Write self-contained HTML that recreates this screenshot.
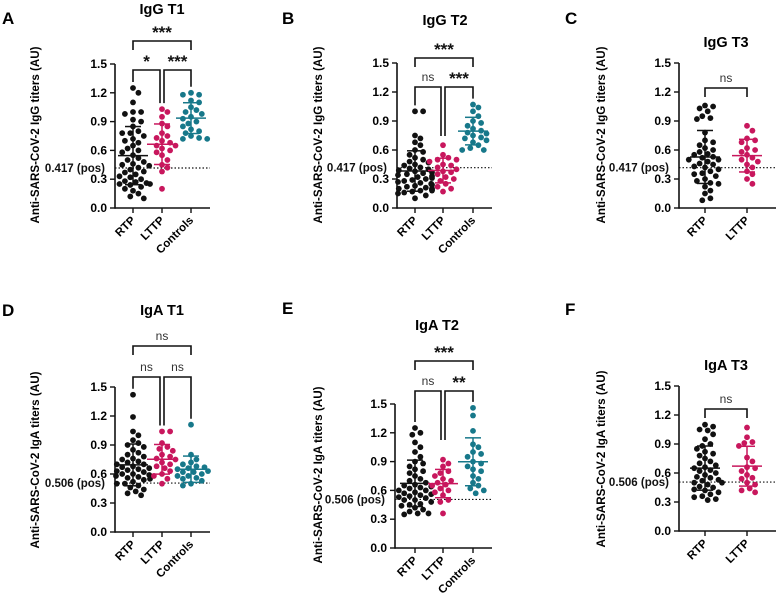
<!DOCTYPE html>
<html><head><meta charset="utf-8"><style>
html,body{margin:0;padding:0;background:#fff;}
svg{display:block;font-family:"Liberation Sans",Arial,sans-serif;}
</style></head><body>
<svg id="fig" width="776" height="595" viewBox="0 0 776 595"></svg>
<script>
const cats3 = ["RTP","LTTP","Controls"];
const cats2 = ["RTP","LTTP"];
const yTicks = [0.0,0.3,0.6,0.9,1.2,1.5];
const yTickLabels = ["0.0","0.3","0.6","0.9","1.2","1.5"];
const thrIgG = 0.417, thrIgA = 0.506;
const A_RTP=[1.25,1.2,1.1,1.0,1.0,0.98,0.92,0.9,0.85,0.8,0.78,0.78,0.75,0.72,0.7,0.68,0.65,0.62,0.6,0.58,0.55,0.52,0.5,0.48,0.46,0.45,0.44,0.42,0.4,0.38,0.37,0.35,0.33,0.32,0.3,0.28,0.27,0.26,0.25,0.25,0.24,0.22,0.2,0.18,0.15,0.12,0.1];
const A_LTTP=[1.03,1.0,0.95,0.88,0.85,0.78,0.75,0.73,0.7,0.68,0.65,0.65,0.62,0.6,0.58,0.55,0.5,0.45,0.42,0.38,0.2];
const A_CTRL=[1.2,1.18,1.18,1.12,1.1,1.05,1.02,1.0,0.98,0.95,0.93,0.9,0.88,0.85,0.82,0.8,0.78,0.75,0.73,0.72,0.72];
const B_RTP=[1.0,1.0,0.75,0.72,0.68,0.65,0.6,0.58,0.55,0.52,0.5,0.48,0.47,0.45,0.44,0.42,0.41,0.4,0.39,0.38,0.37,0.36,0.35,0.34,0.33,0.32,0.31,0.3,0.29,0.28,0.27,0.26,0.25,0.24,0.23,0.22,0.21,0.2,0.2,0.19,0.18,0.18,0.17,0.16,0.15,0.13,0.1];
const B_LTTP=[0.65,0.55,0.52,0.5,0.5,0.48,0.45,0.44,0.42,0.4,0.38,0.37,0.35,0.32,0.3,0.28,0.25,0.22,0.2,0.17];
const B_CTRL=[1.07,1.04,1.0,0.95,0.9,0.88,0.85,0.82,0.8,0.78,0.77,0.75,0.73,0.72,0.7,0.68,0.65,0.62,0.6,0.6];
const C_RTP=[1.06,1.05,1.03,1.0,0.95,0.93,0.92,0.78,0.7,0.68,0.65,0.62,0.6,0.58,0.56,0.55,0.53,0.52,0.5,0.5,0.48,0.46,0.45,0.43,0.42,0.4,0.38,0.36,0.35,0.33,0.3,0.28,0.26,0.25,0.22,0.18,0.15,0.1,0.08];
const C_LTTP=[0.85,0.8,0.72,0.7,0.68,0.62,0.6,0.58,0.55,0.52,0.5,0.48,0.45,0.42,0.38,0.35,0.3,0.25];
const D_RTP=[1.42,1.19,1.04,1.0,0.95,0.92,0.9,0.88,0.85,0.82,0.8,0.78,0.76,0.75,0.73,0.72,0.7,0.7,0.68,0.67,0.66,0.65,0.64,0.63,0.62,0.6,0.6,0.59,0.58,0.57,0.56,0.55,0.54,0.52,0.5,0.5,0.48,0.46,0.44,0.42,0.4,0.38];
const D_LTTP=[1.04,1.04,0.92,0.88,0.86,0.84,0.8,0.78,0.76,0.75,0.72,0.7,0.68,0.66,0.63,0.6,0.58,0.55,0.5];
const D_CTRL=[1.11,0.8,0.75,0.72,0.7,0.68,0.67,0.66,0.65,0.63,0.62,0.62,0.6,0.58,0.58,0.56,0.55,0.53,0.5,0.48];
const E_RTP=[1.25,1.2,1.18,1.1,1.05,1.0,0.95,0.9,0.88,0.85,0.82,0.8,0.78,0.75,0.72,0.7,0.68,0.66,0.65,0.64,0.63,0.62,0.6,0.6,0.58,0.57,0.56,0.55,0.54,0.53,0.52,0.5,0.5,0.48,0.46,0.45,0.44,0.42,0.4,0.38,0.36,0.36,0.35];
const E_LTTP=[0.92,0.88,0.85,0.8,0.78,0.75,0.72,0.7,0.68,0.66,0.65,0.62,0.6,0.58,0.55,0.5,0.48,0.36];
const E_CTRL=[1.46,1.38,1.22,1.08,1.05,1.0,0.98,0.95,0.9,0.88,0.85,0.82,0.8,0.75,0.72,0.68,0.65,0.62,0.6,0.57];
const F_RTP=[1.1,1.08,1.05,1.04,1.0,0.95,0.9,0.88,0.85,0.82,0.8,0.78,0.75,0.72,0.7,0.68,0.66,0.65,0.63,0.62,0.6,0.58,0.56,0.55,0.53,0.52,0.5,0.5,0.48,0.46,0.45,0.43,0.42,0.4,0.38,0.36,0.35,0.33,0.32];
const F_LTTP=[1.07,0.97,0.92,0.91,0.88,0.76,0.72,0.66,0.65,0.62,0.58,0.55,0.54,0.5,0.48,0.44,0.42,0.4];

const colors=["#111111","#c8175d","#17788a"];
const NS="http://www.w3.org/2000/svg";
const svg=document.getElementById('fig');
function el(tag,attrs,parent,text){const e=document.createElementNS(NS,tag);for(const k in attrs)e.setAttribute(k,attrs[k]);if(text!==undefined)e.textContent=text;(parent||svg).appendChild(e);return e;}

const panels=[
 {id:"a",letter:"A",lx:2,ly:24,title:"IgG T1",tx:162,ty:14,ax:115,xEnd:210,y0:208,y15:64,cx:[133,162,191],cats:cats3,data:[A_RTP,A_LTTP,A_CTRL],thr:thrIgG,thrLabel:"0.417 (pos)",ytitle:"Anti-SARS-CoV-2 IgG titers (AU)",ytx:35,yty:135,
  br:[[0,2,41,"***"],[0,1,70,"*"],[1,2,70,"***"]]},
 {id:"b",letter:"B",lx:282,ly:24,title:"IgG T2",tx:445,ty:25,ax:397,xEnd:492,y0:208,y15:63,cx:[415,443,473],cats:cats3,data:[B_RTP,B_LTTP,B_CTRL],thr:thrIgG,thrLabel:"0.417 (pos)",ytitle:"Anti-SARS-CoV-2 IgG titers (AU)",ytx:318,yty:135,
  br:[[0,2,58,"***"],[0,1,87,"ns"],[1,2,87,"***"]]},
 {id:"c",letter:"C",lx:565,ly:24,title:"IgG T3",tx:726,ty:47,ax:679,xEnd:776,y0:208,y15:63,cx:[705,747],cats:cats2,data:[C_RTP,C_LTTP],thr:thrIgG,thrLabel:"0.417 (pos)",ytitle:"Anti-SARS-CoV-2 IgG titers (AU)",ytx:601,yty:135,
  br:[[0,1,88,"ns"]]},
 {id:"d",letter:"D",lx:2,ly:316,title:"IgA T1",tx:162,ty:315,ax:115,xEnd:210,y0:532,y15:387,cx:[133,162,191],cats:cats3,data:[D_RTP,D_LTTP,D_CTRL],thr:thrIgA,thrLabel:"0.506 (pos)",ytitle:"Anti-SARS-CoV-2 IgA titers (AU)",ytx:35,yty:460,
  br:[[0,2,346,"ns"],[0,1,377,"ns"],[1,2,377,"ns"]]},
 {id:"e",letter:"E",lx:282,ly:314,title:"IgA T2",tx:437,ty:330,ax:395,xEnd:492,y0:548,y15:404,cx:[415,443,473],cats:cats3,data:[E_RTP,E_LTTP,E_CTRL],thr:thrIgA,thrLabel:"0.506 (pos)",ytitle:"Anti-SARS-CoV-2 IgA titers (AU)",ytx:318,yty:475,
  br:[[0,2,361,"***"],[0,1,391,"ns"],[1,2,391,"**"]]},
 {id:"f",letter:"F",lx:565,ly:315,title:"IgA T3",tx:726,ty:370,ax:679,xEnd:776,y0:531,y15:386,cx:[705,747],cats:cats2,data:[F_RTP,F_LTTP],thr:thrIgA,thrLabel:"0.506 (pos)",ytitle:"Anti-SARS-CoV-2 IgA titers (AU)",ytx:601,yty:459,
  br:[[0,1,409,"ns"]]}
];

function swarm(pys,r){const placed=[];const order=pys.map((y,i)=>i).sort((a,b)=>pys[a]-pys[b]);const res=new Array(pys.length);
 for(const i of order){const y=pys[i];let dx=0;for(let k=0;k<40;k++){const cand=(k%2?1:-1)*Math.ceil(k/2)*(r*0.9);let ok=true;for(const p of placed){const dd=(p.x-cand)**2+(p.y-y)**2;if(dd<(2*r)**2*0.95){ok=false;break;}}if(ok){dx=cand;break;}}
 dx=Math.max(-17,Math.min(17,dx));placed.push({x:dx,y});res[i]=dx;}return res;}

panels.forEach(p=>{
 const g=el('g',{});
 
 
 const Y=v=>p.y0-(v/1.5)*(p.y0-p.y15);
 const L=el('text',{x:p.lx,y:p.ly,'font-size':17,'font-weight':'bold'},g,p.letter);
 
 const T=el('text',{x:p.tx,y:p.ty,'font-size':14.5,'font-weight':'bold','text-anchor':'middle'},g,p.title);
 
 const yt=el('text',{x:0,y:0,'font-size':11.5,'font-weight':'bold','text-anchor':'middle',transform:`translate(${p.ytx+4},${p.yty}) rotate(-90)`,textLength:177,lengthAdjust:'spacingAndGlyphs'},g,p.ytitle);
 
 const ya=el('line',{x1:p.ax,y1:p.y15,x2:p.ax,y2:p.y0+0.75,stroke:'#111','stroke-width':1.6},g);
 
 const xa=el('line',{x1:p.ax,y1:p.y0,x2:p.xEnd,y2:p.y0,stroke:'#111','stroke-width':1.6},g);
 
 yTicks.forEach((v,i)=>{
  el('line',{x1:p.ax-5,y1:Y(v),x2:p.ax,y2:Y(v),stroke:'#111','stroke-width':1.4},g);
  const t=el('text',{x:p.ax-8,y:Y(v)+4,'font-size':12,'font-weight':'bold','text-anchor':'end'},g,yTickLabels[i]);
  
 });
 const th=el('line',{x1:p.ax,y1:Y(p.thr),x2:p.xEnd,y2:Y(p.thr),stroke:'#111','stroke-width':1.2,'stroke-dasharray':'1.5,2'},g);
 
 const tl=el('text',{x:p.ax-10,y:Y(p.thr)+4,'font-size':11.5,'font-weight':'bold','text-anchor':'end',fill:'#111'},g,p.thrLabel);
 
 p.cats.forEach((c,i)=>{
  const cx=p.cx[i];
  el('line',{x1:cx,y1:p.y0,x2:cx,y2:p.y0+5,stroke:'#111','stroke-width':1.4},g);
  const xl=el('text',{x:0,y:0,'font-size':11.5,'font-weight':'bold','text-anchor':'end',transform:`translate(${cx+3},${p.y0+13}) rotate(-45)`},g,c);
  
  const vals=p.data[i];
  const pys=vals.map(Y);
  const dxs=swarm(pys,3);
  vals.forEach((v,k)=>{
   const d=el('circle',{cx:cx+dxs[k],cy:Y(v),r:2.9,fill:colors[i]},g);
   
   
  });
  const m=vals.reduce((a,b)=>a+b,0)/vals.length;
  const sd=Math.sqrt(vals.reduce((a,b)=>a+(b-m)**2,0)/(vals.length-1));
  const col=colors[i];
  const eb=el('g',{stroke:col,'stroke-width':1.5},g);
  
  el('line',{x1:cx-15,y1:Y(m),x2:cx+15,y2:Y(m)},eb);
  el('line',{x1:cx,y1:Y(m+sd),x2:cx,y2:Y(Math.max(0,m-sd))},eb);
  el('line',{x1:cx-8,y1:Y(m+sd),x2:cx+8,y2:Y(m+sd)},eb);
  el('line',{x1:cx-8,y1:Y(Math.max(0,m-sd)),x2:cx+8,y2:Y(Math.max(0,m-sd))},eb);
 });
 p.br.forEach(b=>{
  const [i,j,y,lab]=b;
  const x1=p.cx[i]+(j-i===1&&i>0?2:0), x2=p.cx[j]-(j-i===1&&p.br.length>1&&i===0?2:0);
  const maxI=Math.max(...p.data[i]), maxJ=Math.max(...p.data[j]);
  const lim=y+9+(p.br.length>1&&j-i===1?40:0);
  const l1=Math.max(y+9,Math.min(Y(maxI)-6,lim));
  const l2=Math.max(y+9,Math.min(Y(maxJ)-6,lim));
  const br=el('path',{d:`M${x1},${l1} V${y} H${x2} V${l2}`,fill:'none',stroke:'#111','stroke-width':1.6},g);
  
  const isNs=lab==='ns';
  const st=el('text',{x:(x1+x2)/2,y:isNs?y-6:y-3,'font-size':isNs?12:17,'font-weight':isNs?'normal':'bold','text-anchor':'middle',fill:isNs?'#333':'#111'},g,lab);
  
 });
});
</script>
</body></html>
